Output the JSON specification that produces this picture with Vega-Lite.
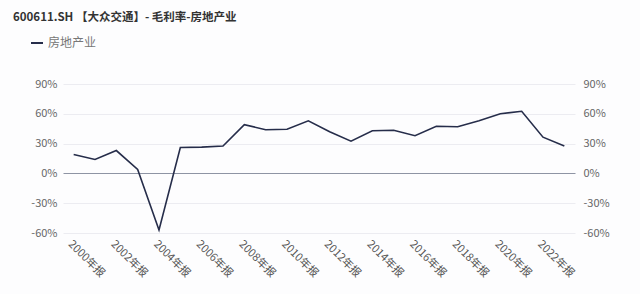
{
  "$schema": "https://vega.github.io/schema/vega-lite/v6.json",
  "autosize": "none",
  "width": 512,
  "height": 149,
  "padding": {"left": 63, "top": 84, "right": 65, "bottom": 61},
  "background": "#fdfdfe",
  "config": {
    "font": "Noto Sans CJK SC",
    "view": {"stroke": null}
  },
  "title": {
    "text": "600611.SH 【大众交通】- 毛利率-房地产业",
    "anchor": "start",
    "frame": "group",
    "dx": -50,
    "offset": 13,
    "fontSize": 11.5,
    "fontWeight": "bold",
    "color": "#333333"
  },
  "data": {
    "values": [
      {"year": "2000年报", "series": "房地产业", "v": 19},
      {"year": "2001年报", "series": "房地产业", "v": 14},
      {"year": "2002年报", "series": "房地产业", "v": 23},
      {"year": "2003年报", "series": "房地产业", "v": 4},
      {"year": "2004年报", "series": "房地产业", "v": -57},
      {"year": "2005年报", "series": "房地产业", "v": 26},
      {"year": "2006年报", "series": "房地产业", "v": 26.5},
      {"year": "2007年报", "series": "房地产业", "v": 27.5},
      {"year": "2008年报", "series": "房地产业", "v": 49},
      {"year": "2009年报", "series": "房地产业", "v": 44},
      {"year": "2010年报", "series": "房地产业", "v": 44.5},
      {"year": "2011年报", "series": "房地产业", "v": 53},
      {"year": "2012年报", "series": "房地产业", "v": 42},
      {"year": "2013年报", "series": "房地产业", "v": 32.5},
      {"year": "2014年报", "series": "房地产业", "v": 43},
      {"year": "2015年报", "series": "房地产业", "v": 43.5},
      {"year": "2016年报", "series": "房地产业", "v": 38},
      {"year": "2017年报", "series": "房地产业", "v": 47.5},
      {"year": "2018年报", "series": "房地产业", "v": 47},
      {"year": "2019年报", "series": "房地产业", "v": 53},
      {"year": "2020年报", "series": "房地产业", "v": 60},
      {"year": "2021年报", "series": "房地产业", "v": 62.5},
      {"year": "2022年报", "series": "房地产业", "v": 36.5},
      {"year": "2023年报", "series": "房地产业", "v": 27.5}
    ]
  },
  "encoding": {
    "x": {
      "field": "year",
      "type": "ordinal",
      "scale": {"type": "point", "padding": 0.5},
      "axis": {
        "title": null,
        "domain": false,
        "ticks": false,
        "labelAngle": 45,
        "labelFontSize": 11,
        "labelColor": "#555555",
        "labelPadding": 5,
        "labelExpr": "parseInt(datum.value) % 2 === 0 ? datum.value : ''"
      }
    }
  },
  "layer": [
    {
      "mark": {"type": "line", "color": "#262d4a", "strokeWidth": 1.6},
      "encoding": {
        "y": {
          "field": "v",
          "type": "quantitative",
          "scale": {"domain": [-60, 90], "nice": false, "zero": false},
          "axis": {
            "orient": "left",
            "title": null,
            "values": [-60, -30, 0, 30, 60, 90],
            "labelExpr": "datum.value + '%'",
            "domain": false,
            "ticks": false,
            "labelPadding": 6,
            "labelFontSize": 11,
            "labelColor": "#666666",
            "gridColor": {"condition": {"test": "datum.value === 0", "value": "#8e94a4"}, "value": "#ececf1"},
            "gridWidth": 1
          }
        },
        "color": {
          "field": "series",
          "type": "nominal",
          "scale": {"range": ["#262d4a"]},
          "legend": {
            "title": null,
            "orient": "none",
            "legendX": -33,
            "legendY": -48,
            "symbolType": "stroke",
            "symbolSize": 144,
            "symbolStrokeWidth": 2,
            "labelFontSize": 12,
            "labelColor": "#777777"
          }
        }
      }
    },
    {
      "mark": {"type": "line", "opacity": 0},
      "encoding": {
        "y": {
          "field": "v",
          "type": "quantitative",
          "scale": {"domain": [-60, 90], "nice": false, "zero": false},
          "axis": {
            "orient": "right",
            "title": null,
            "grid": false,
            "values": [-60, -30, 0, 30, 60, 90],
            "labelExpr": "datum.value + '%'",
            "domain": false,
            "ticks": false,
            "labelPadding": 8,
            "labelFontSize": 11,
            "labelColor": "#666666"
          }
        }
      }
    }
  ],
  "resolve": {"scale": {"y": "independent"}}
}
